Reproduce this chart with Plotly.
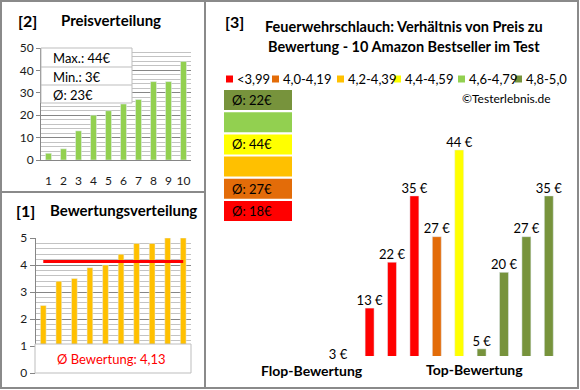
import plotly.graph_objects as go

# ---------------- data ----------------
produkte = list(range(1, 11))
preise_sortiert = [3, 5, 13, 20, 22, 25, 27, 35, 35, 44]
preis_max, preis_min, preis_schnitt = 44, 3, 23
bewertungen = [2.5, 3.4, 3.5, 3.9, 4.0, 4.4, 4.8, 4.8, 5.0, 5.0]
bewertung_schnitt = 4.13
preise_rechts = [3, 13, 22, 35, 27, 44, 5, 20, 27, 35]
farben_rechts = ["#FF0000", "#FF0000", "#FF0000", "#FF0000", "#E36C09",
                 "#FFFF00", "#77933C", "#77933C", "#77933C", "#77933C"]
legende_labels = ["<3,99", "4,0-4,19", "4,2-4,39", "4,4-4,59", "4,6-4,79", "4,8-5,0"]
legende_farben = ["#FF0000", "#E36C09", "#FFC000", "#FFFF00", "#92D050", "#77933C"]
schnitt_farben = ["#77933C", "#92D050", "#FFFF00", "#FFC000", "#E36C09", "#FF0000"]
schnitt_texte = ["Ø: 22€", "", "Ø: 44€", "", "Ø: 27€", "Ø: 18€"]

W, H = 580, 390
FONT = "Lato"
GRID_MAJ = "#868686"
GRID_MIN = "#c3c3c3"


def px(x):
    return x / W


def py(y):
    return 1 - y / H


fig = go.Figure()

# top-left: price distribution
fig.add_trace(go.Bar(x=produkte, y=preise_sortiert, marker_color="#92D050",
                     width=0.4, xaxis="x", yaxis="y", showlegend=False))
# bottom-left: rating distribution
fig.add_trace(go.Bar(x=produkte, y=bewertungen, marker_color="#FFC000",
                     width=0.37, xaxis="x2", yaxis="y2", showlegend=False))
fig.add_trace(go.Scatter(x=produkte, y=[bewertung_schnitt] * len(produkte), mode="lines",
                         line=dict(color="#FF0000", width=3), xaxis="x2", yaxis="y2",
                         showlegend=False))
# right: price vs rating
Y3_MIN = 3.6
fig.add_trace(go.Bar(x=produkte, y=preise_rechts, marker_color=farben_rechts,
                     width=0.4, xaxis="x3", yaxis="y3", showlegend=False))
fig.add_trace(go.Scatter(x=produkte, y=[max(v, Y3_MIN) for v in preise_rechts],
                         text=[f"{v} €" for v in preise_rechts], mode="text",
                         textposition=["middle left"] + ["top center"] * 9,
                         textfont=dict(family=FONT, size=13, color="#000"),
                         xaxis="x3", yaxis="y3", showlegend=False, cliponaxis=False))

axis_font = dict(family=FONT, size=12, color="#1a1a1a")

fig.update_layout(
    width=W, height=H, margin=dict(l=0, r=0, t=0, b=0, pad=0), autosize=False,
    paper_bgcolor="white", plot_bgcolor="white",
    font=dict(family=FONT),
    xaxis=dict(domain=[px(41), px(191)], anchor="y", range=[0.5, 10.5],
               tickvals=produkte, ticks="outside", ticklen=10,
               tickcolor="rgba(0,0,0,0)", showline=True, linecolor=GRID_MAJ,
               showgrid=False, zeroline=False, tickfont=axis_font, automargin=False),
    yaxis=dict(domain=[py(160), py(48)], anchor="x", range=[0, 50], dtick=10,
               showgrid=True, gridcolor=GRID_MAJ, ticks="outside", ticklen=4,
               tickcolor=GRID_MAJ, showline=True, linecolor=GRID_MAJ, zeroline=False,
               minor=dict(dtick=2, showgrid=True, gridcolor=GRID_MIN),
               tickfont=axis_font, automargin=False),
    xaxis2=dict(domain=[px(35.5), px(191)], anchor="y2", range=[0.5, 10.5],
                showticklabels=False, showgrid=False, zeroline=False, showline=False,
                automargin=False),
    yaxis2=dict(domain=[py(373), py(238)], anchor="x2", range=[0, 5], dtick=1,
                showgrid=True, gridcolor=GRID_MAJ, ticks="outside", ticklen=5,
                tickcolor=GRID_MAJ, showline=True, linecolor=GRID_MAJ, zeroline=False,
                minor=dict(dtick=0.2, showgrid=True, gridcolor=GRID_MIN),
                tickfont=axis_font, automargin=False),
    xaxis3=dict(domain=[px(336), px(560)], anchor="y3", range=[0.5, 10.5],
                visible=False, automargin=False),
    yaxis3=dict(domain=[py(356), py(119.4)], anchor="x3", range=[Y3_MIN, 50],
                visible=False, automargin=False),
)

shapes = []
ann = []

# frame
line_col = "#8a8a8a"
shapes.append(dict(type="rect", xref="paper", yref="paper", x0=px(1), x1=px(578),
                   y0=py(388), y1=py(1), line=dict(color=line_col, width=2)))
shapes.append(dict(type="line", xref="paper", yref="paper", x0=px(205), x1=px(205),
                   y0=py(388), y1=py(1), line=dict(color=line_col, width=2)))
shapes.append(dict(type="line", xref="paper", yref="paper", x0=px(1), x1=px(205),
                   y0=py(192), y1=py(192), line=dict(color=line_col, width=2)))

# stats box (top-left)
box_col = "#bdbdbd"
shapes.append(dict(type="rect", xref="paper", yref="paper", x0=px(41), x1=px(132),
                   y0=py(103), y1=py(48), line=dict(color=box_col, width=1),
                   fillcolor="white"))
for yy in (67, 85):
    shapes.append(dict(type="line", xref="paper", yref="paper", x0=px(41), x1=px(132),
                       y0=py(yy), y1=py(yy), line=dict(color=box_col, width=1)))
stat_texte = [f"Max.: {preis_max}€", f"Min.: {preis_min}€", f"Ø: {preis_schnitt}€"]
for t, yy in zip(stat_texte, (58, 77, 95)):
    ann.append(dict(text=t, x=px(51), y=py(yy), xanchor="left", yanchor="middle",
                    font=dict(family=FONT, size=13, color="#000")))

# rating box (bottom-left)
shapes.append(dict(type="rect", xref="paper", yref="paper", x0=px(35), x1=px(191),
                   y0=py(373), y1=py(344), line=dict(color=box_col, width=1),
                   fillcolor="white"))
ann.append(dict(text=f"Ø Bewertung: {str(bewertung_schnitt).replace('.', ',')}",
                x=px(111), y=py(359), xanchor="center", yanchor="middle",
                font=dict(family=FONT, size=13, color="#FF0000")))

# headings
head = dict(family=FONT, size=15, color="#000")
ann.append(dict(text="<b>[2]</b>", x=px(16), y=py(20), xanchor="left", yanchor="middle",
                font=dict(family=FONT, size=16, color="#000")))
ann.append(dict(text="<b>Preisverteilung</b>", x=px(59), y=py(20), xanchor="left",
                yanchor="middle", font=head))
ann.append(dict(text="<b>[1]</b>", x=px(14), y=py(210), xanchor="left", yanchor="middle",
                font=dict(family=FONT, size=16, color="#000")))
ann.append(dict(text="<b>Bewertungsverteilung</b>", x=px(48), y=py(210), xanchor="left",
                yanchor="middle", font=head))
ann.append(dict(text="<b>[3]</b>", x=px(223), y=py(21), xanchor="left", yanchor="middle",
                font=dict(family=FONT, size=16, color="#000")))
ann.append(dict(text="<b>Feuerwehrschlauch: Verhältnis von Preis zu</b>", x=px(404),
                y=py(27), xanchor="center", yanchor="middle",
                font=dict(family=FONT, size=14.5, color="#000")))
ann.append(dict(text="<b>Bewertung - 10 Amazon Bestseller im Test</b>", x=px(404),
                y=py(46), xanchor="center", yanchor="middle",
                font=dict(family=FONT, size=14.5, color="#000")))

# legend
leg_x = [226, 272, 337, 394, 458, 515]
for lab, col, xx in zip(legende_labels, legende_farben, leg_x):
    shapes.append(dict(type="rect", xref="paper", yref="paper", x0=px(xx), x1=px(xx + 7),
                       y0=py(82.5), y1=py(75.5), line=dict(width=0), fillcolor=col))
    ann.append(dict(text=lab.replace("<", "&lt;"), x=px(xx + 9), y=py(79),
                    xanchor="left", yanchor="middle",
                    font=dict(family=FONT, size=13, color="#000")))

ann.append(dict(text="©Testerlebnis.de", x=px(553), y=py(98), xanchor="right",
                yanchor="middle", font=dict(family=FONT, size=12, color="#000")))

# average boxes
for i, (col, t) in enumerate(zip(schnitt_farben, schnitt_texte)):
    y0 = 90 + i * 22.2
    shapes.append(dict(type="rect", xref="paper", yref="paper", x0=px(224), x1=px(292),
                       y0=py(y0 + 20), y1=py(y0), line=dict(width=0), fillcolor=col))
    if t:
        ann.append(dict(text=t, x=px(252), y=py(y0 + 10), xanchor="center",
                        yanchor="middle", font=dict(family=FONT, size=13, color="#000")))

ann.append(dict(text="<b>Flop-Bewertung</b>", x=px(312), y=py(370), xanchor="center",
                yanchor="middle", font=dict(family=FONT, size=14, color="#000")))
ann.append(dict(text="<b>Top-Bewertung</b>", x=px(474), y=py(369), xanchor="center",
                yanchor="middle", font=dict(family=FONT, size=14, color="#000")))

for a in ann:
    a.setdefault("xref", "paper")
    a.setdefault("yref", "paper")
    a.setdefault("showarrow", False)
    a.setdefault("font", dict(family=FONT, size=12, color="#000"))

fig.update_layout(shapes=shapes, annotations=ann)
fig.write_html(
    "out.html",
    config={"displayModeBar": False},
    post_script="document.body.style.margin='0';document.body.style.padding='0';"
                "document.body.style.overflow='hidden';",
)
